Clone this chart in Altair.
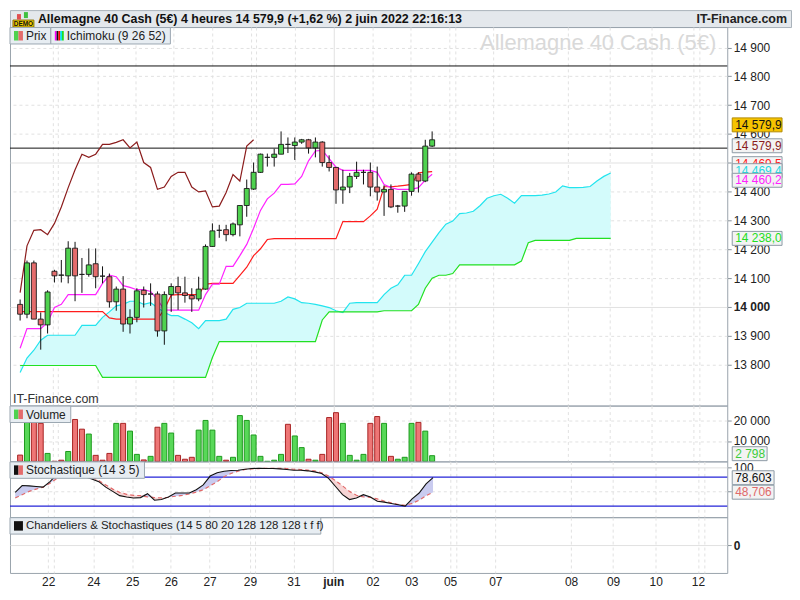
import altair as alt
import pandas as pd

FONT = "Liberation Sans"
GRID = "#e1e1e1"

# ---------------- data ----------------
opens = [14009, 13975, 14153, 13958, 13938, 14124, 14110, 14108, 14204, 14113,
         14113, 14150, 14107, 14105, 14018, 14062, 13941, 13964, 14058, 14045,
         14045, 13917, 14043, 14071, 14049, 14040, 14028, 14062, 14210, 14266,
         14268, 14251, 14285, 14352, 14409, 14467, 14519, 14519, 14530, 14564,
         14560, 14572, 14580, 14552, 14572, 14501, 14484, 14406, 14416, 14453,
         14467, 14467, 14416, 14399, 14408, 14350, 14350, 14401, 14461, 14437,
         14558]
highs = [14026, 14161, 14161, 13981, 14058, 14129, 14163, 14228, 14226, 14170,
         14203, 14203, 14141, 14116, 14071, 14107, 13992, 14065, 14071, 14082,
         14054, 14054, 14082, 14105, 14105, 14065, 14105, 14217, 14290, 14285,
         14285, 14293, 14352, 14442, 14501, 14532, 14532, 14549, 14609, 14588,
         14588, 14583, 14583, 14588, 14575, 14526, 14484, 14476, 14465, 14504,
         14476, 14501, 14487, 14422, 14425, 14354, 14401, 14467, 14467, 14580,
         14609]
lows = [13953, 13961, 13958, 13852, 13908, 14085, 14085, 14082, 14020, 14049,
        14105, 14065, 14082, 13998, 13987, 13914, 13908, 13947, 13998, 14004,
        13897, 13869, 13983, 13990, 14015, 13983, 14020, 14060, 14208, 14240,
        14228, 14245, 14245, 14313, 14406, 14465, 14487, 14487, 14530, 14534,
        14510, 14566, 14532, 14519, 14487, 14470, 14358, 14358, 14395, 14444,
        14425, 14384, 14369, 14316, 14343, 14327, 14330, 14386, 14397, 14433,
        14555]
closes = [13975, 14153, 13958, 13938, 14052, 14108, 14111, 14204, 14108, 14113,
          14146, 14105, 14107, 14018, 14062, 13941, 13964, 14056, 14043, 14045,
          13917, 14043, 14071, 14049, 14040, 14028, 14062, 14210, 14264, 14266,
          14251, 14288, 14352, 14411, 14467, 14530, 14519, 14530, 14564, 14564,
          14572, 14580, 14552, 14572, 14501, 14484, 14406, 14416, 14453, 14467,
          14467, 14416, 14399, 14408, 14347, 14350, 14401, 14461, 14437, 14558,
          14579.9]
volumes = [3090, 24000, 23000, 18650, 3900, 0, 570, 4850, 20560, 15800,
           13400, 2950, 570, 3900, 18650, 18650, 14850, 3430, 710, 2470,
           16750, 18650, 13900, 2950, 1050, 2000, 15330, 20080, 15330, 2470,
           570, 2000, 22470, 20080, 12950, 2470, 0, 570, 3430, 18180,
           12470, 6760, 1050, 570, 3430, 21500, 23900, 18650, 2950, 570,
           3430, 18650, 22000, 18650, 2470, 1050, 2000, 18650, 19130, 14850,
           2798]
vol_up = [0, 1, 0, 0, 1, 0, 0, 1, 0, 0,
          1, 0, 0, 0, 1, 0, 1, 1, 0, 1,
          0, 1, 1, 0, 0, 0, 1, 1, 1, 1,
          0, 1, 1, 1, 1, 1, 1, 1, 1, 0,
          1, 1, 0, 1, 0, 0, 0, 1, 1, 1,
          1, 0, 0, 1, 0, 1, 1, 1, 0, 1,
          1]
tenkan = [13857, 13925, 13925, 13925, 13947, 13998, 14009, 14043, 14043, 14043,
          14043, 14043, 14082, 14110, 14105, 14074, 14068, 14060, 14060, 14054,
          14026, 13990, 13989, 13989, 13989, 13989, 13989, 14043, 14079, 14079,
          14141, 14141, 14178, 14217, 14273, 14335, 14375, 14395, 14425, 14425,
          14427, 14453, 14507, 14541, 14543, 14515, 14485, 14474, 14474, 14474,
          14474, 14474, 14467, 14425, 14414, 14408, 14408, 14408, 14414, 14440,
          14460.2]
kijun = [13984, 13984, 13984, 13984, 13984, 13984, 13984, 13984, 13984, 13984,
         13984, 13984, 13984, 13962, 13958, 13958, 13958, 13958, 13958, 13958,
         13958, 13992, 14041, 14043, 14043, 14043, 14043, 14079, 14082, 14082,
         14082, 14082, 14110, 14138, 14178, 14202, 14234, 14237, 14237, 14237,
         14237, 14237, 14237, 14237, 14237, 14237, 14237, 14296, 14296, 14296,
         14296, 14316, 14339, 14417, 14417, 14419, 14422, 14425, 14465, 14468,
         14469.5]
chikou = [14050, 14212, 14266, 14268, 14251, 14290, 14347, 14414, 14476, 14530,
          14519, 14530, 14564, 14564, 14571, 14580, 14552, 14572, 14501, 14484,
          14408, 14416, 14453, 14467, 14467, 14416, 14399, 14403, 14347, 14350,
          14397, 14459, 14437, 14558, 14579.9]
senkou_a = [13773, 13823, 13850, 13885, 13902, 13902, 13902, 13902, 13902, 13936,
            13936, 13936, 13964, 13983, 14004, 14009, 14020, 14020, 14009, 14015,
            13998, 13981, 13970, 13970, 13958, 13945, 13925, 13953, 13953, 13953,
            13958, 13992, 13998, 14013, 14013, 14013, 14013, 14013, 14020, 14035,
            14028, 14015, 14013, 14009, 14004, 13998, 13987, 13981, 14013, 14015,
            14015, 14015, 14015, 14043, 14065, 14077, 14110, 14110, 14150, 14192,
            14225, 14258, 14287, 14298, 14324, 14326, 14332, 14352, 14377, 14386,
            14391, 14377, 14360, 14386, 14386, 14386, 14388, 14392, 14399, 14420,
            14414, 14414, 14415, 14418, 14437, 14453, 14465]
senkou_b = [13797, 13797, 13797, 13797, 13797, 13797, 13797, 13797, 13797, 13797,
            13797, 13797, 13756, 13756, 13756, 13756, 13756, 13756, 13756, 13756,
            13756, 13756, 13756, 13756, 13756, 13756, 13756, 13756, 13825, 13880,
            13880, 13880, 13880, 13880, 13880, 13880, 13880, 13880, 13880, 13880,
            13880, 13880, 13880, 13880, 13955, 13983, 13983, 13983, 13983, 13983,
            13983, 13983, 13983, 13987, 13987, 13987, 13987, 13987, 14009, 14065,
            14100, 14110, 14110, 14116, 14146, 14146, 14146, 14146, 14146, 14146,
            14146, 14146, 14146, 14159, 14223, 14231, 14231, 14231, 14231, 14231,
            14231, 14238, 14238, 14238, 14238, 14238, 14238]
stoch_k = [48.3, 62.5, 61.8, 60.5, 59.1, 70.5, 86.0, 94.0, 94.0, 90.7,
           80.6, 75.9, 70.5, 59.1, 50.4, 41.6, 38.9, 36.9, 37.6, 45.7,
           32.2, 33.5, 38.9, 47.0, 47.0, 47.0, 53.7, 63.8, 82.0, 88.7,
           92.1, 93.4, 94.1, 96.1, 97.5, 98.1, 97.5, 97.5, 96.8, 95.5,
           94.1, 94.1, 92.8, 90.7, 87.4, 77.3, 60.5, 43.6, 33.5, 36.9,
           43.6, 38.9, 30.2, 28.2, 25.5, 22.8, 20.1, 34.9, 47.0, 65.8,
           78.603]
stoch_d = [36.9, 43.6, 50.4, 55.1, 59.1, 67.2, 77.3, 84.0, 87.4, 87.4,
           86.0, 80.6, 72.6, 63.8, 55.1, 48.4, 44.3, 42.3, 41.6, 38.9,
           37.6, 36.9, 38.3, 40.3, 42.3, 45.0, 49.0, 53.7, 61.8, 70.5,
           80.6, 87.4, 92.1, 95.5, 96.8, 97.5, 98.1, 98.1, 98.1, 97.5,
           96.1, 95.5, 94.1, 92.8, 88.7, 82.0, 72.6, 61.8, 50.4, 42.3,
           38.9, 38.2, 34.9, 30.2, 26.8, 23.4, 21.4, 25.5, 32.2, 41.6,
           48.706]
h_levels = [14836, 14551]
stoch_levels = [80, 20]
day_pos = [4.73, 11.22, 16.79, 22.35, 27.91, 33.70, 39.96, 45.67, 51.32, 56.88,
           62.45, 68.94, 79.83, 85.86, 91.97, 98.05]
day_lab = ["22", "24", "25", "26", "27", "29", "31", "juin", "02", "03",
           "05", "07", "08", "09", "10", "12"]
extra_pos = [5.52, 34.40, 63.38, 98.93]

TITLE = "Allemagne 40 Cash (5€) 4 heures 14 579,9 (+1,62 %) 2 juin 2022 22:16:13"

# ---------------- tables ----------------
UP, DN = "#4fd24f", "#e46c6c"
n = len(closes)
df = pd.DataFrame({
    "i": list(range(n)), "o": opens, "h": highs, "l": lows, "c": closes,
    "vol": volumes, "tenkan": tenkan, "kijun": kijun, "k": stoch_k, "d": stoch_d,
})
df["body"] = [UP if c > o else (DN if c < o else "#222222") for o, c in zip(opens, closes)]
df["vfill"] = ["#58d858" if u else "#ee7676" for u in vol_up]
df["vstroke"] = ["#1d9a1d" if u else "#a82424" for u in vol_up]
cloud_df = pd.DataFrame({"i": list(range(len(senkou_a))), "a": senkou_a, "b": senkou_b})
chik_df = pd.DataFrame({"i": list(range(len(chikou))), "v": chikou})
hl_df = pd.DataFrame({"lvl": h_levels})
sl_df = pd.DataFrame({"lvl": stoch_levels})
tick_pos = day_pos + extra_pos
tick_df = pd.DataFrame({"p": tick_pos, "z": [0] * len(tick_pos)})

# ---------------- layout ----------------
W = 720
H_HEAD, H_MAIN, H_VOL, H_STO, H_CH = 17, 380, 56, 56, 56
xsc = alt.Scale(domain=[-0.75, 102.25], nice=False, zero=False)

lab_expr = "''"
for p, lab in zip(day_pos, day_lab):
    lab_expr = f"abs(datum.value - {p}) < 0.01 ? '{lab}' : ({lab_expr})"
juin_test = "abs(datum.value - 45.67) < 0.01"
xgrid_dash = {"condition": {"test": juin_test, "value": []}, "value": [3, 3]}

x_axis_top = alt.Axis(values=tick_pos, labels=False, ticks=False, domain=False, grid=True,
                      gridColor=GRID, gridDash=xgrid_dash, title=None)
x_axis_bottom = alt.Axis(values=tick_pos, labelExpr=lab_expr,
                         labelFontWeight={"condition": {"test": juin_test, "value": "bold"}, "value": "normal"},
                         labelFont=FONT, labelFontSize=12, labelColor="#222", labelPadding=4,
                         labelOverlap=False, labelFlush=False, ticks=False, domain=False, grid=True,
                         gridColor=GRID, gridDash=xgrid_dash, title=None)


def XM(field):
    return alt.X(field, type="quantitative", scale=xsc, axis=x_axis_top, title=None)


ax_common = dict(orient="right", domain=False, ticks=True, tickSize=4, tickColor="#8a949c",
                 labelFont=FONT, labelFontSize=12, labelColor="#222", labelPadding=2,
                 labelOverlap=False, gridColor=GRID, title=None, grid=True)
fmt = "replace(format(datum.value, ',d'), ',', ' ')"

main_axis = alt.Axis(values=list(range(13800, 15000, 100)), labelExpr=fmt,
                     labelFontWeight={"condition": {"test": "datum.value == 14000", "value": "bold"}, "value": "normal"},
                     gridDash={"condition": {"test": "datum.value == 14000 || datum.value == 14500", "value": []}, "value": [3, 3]},
                     **ax_common)
main_sc = alt.Scale(domain=[13658, 14971], nice=False, zero=False)
vol_axis = alt.Axis(values=[10000, 20000], labelExpr=fmt, gridDash=[3, 3], **ax_common)
vol_sc = alt.Scale(domain=[0, 27370], nice=False)
sto_axis = alt.Axis(values=[50, 100], labelExpr="datum.value == 100 ? '100' : ''",
                    gridDash={"condition": {"test": "datum.value == 100", "value": []}, "value": [3, 3]},
                    **ax_common)
sto_sc = alt.Scale(domain=[-2.8, 112.3], nice=False, zero=False)
ch_axis = alt.Axis(values=[0], labelFontWeight="bold", **ax_common)
ch_sc = alt.Scale(domain=[-1, 1], nice=False)


def YM(f):
    return alt.Y(f, type="quantitative", scale=main_sc, axis=main_axis, title=None)


def YV(f):
    return alt.Y(f, type="quantitative", scale=vol_sc, axis=vol_axis, title=None)


def YS(f):
    return alt.Y(f, type="quantitative", scale=sto_sc, axis=sto_axis, title=None)


def YC(f):
    return alt.Y(f, type="quantitative", scale=ch_sc, axis=ch_axis, title=None)


def const():
    return alt.Chart(alt.Data(values=[{}]))


def rect(x1, x2, y1, y2, fill, stroke=None, sw=1):
    kw = dict(fill=fill)
    if stroke:
        kw.update(stroke=stroke, strokeWidth=sw)
    return const().mark_rect(**kw).encode(x=alt.value(x1), x2=alt.value(x2),
                                          y=alt.value(y1), y2=alt.value(y2))


def label(text, x, y, size=12, color="#222", weight="normal", align="left"):
    return const().mark_text(text=text, align=align, baseline="middle", fontSize=size, font=FONT,
                             color=color, fontWeight=weight).encode(x=alt.value(x), y=alt.value(y))


def legend(x0, w, text, icon, size=12):
    layers = [rect(x0, x0 + w, 0.5, 17, "#e7edf2", "#9ba7b1")]
    iw = 9 / len(icon)
    for k, col in enumerate(icon):
        layers.append(rect(x0 + 4 + k * iw, x0 + 4 + (k + 1) * iw, 4, 13.5, col))
    layers.append(label(text, x0 + 16, 9, size=size))
    return layers


def tag(yfn, value, text, color, bg="#f3f3f3", border="#8d9ba6", off=0, x1=725, x2=775):
    d = alt.Data(values=[{"v": value, "t": text}])
    r = alt.Chart(d).mark_rect(fill=bg, stroke=border, strokeWidth=1, yOffset=off - 7,
                               y2Offset=off + 7).encode(x=alt.value(x1), x2=alt.value(x2),
                                                        y=yfn("v"), y2=alt.Y2("v"))
    t = alt.Chart(d).mark_text(align="left", baseline="middle", dy=off, fontSize=12, font=FONT,
                               color=color).encode(x=alt.value(x1 + 3), y=yfn("v"), text="t:N")
    return [r, t]


# ---------------- header ----------------
header = alt.layer(
    rect(3, 24, 10, 17, "#f2cf00", "#8a7000"),
    label("DEMO", 13.5, 13.7, size=6.5, color="#111", weight="bold", align="center"),
    rect(7, 11, 4, 9.5, "#e05050"),
    rect(14, 18, 2, 8, "#40c040"),
    label(TITLE, 28, 9, size=12.5, weight="bold", color="#111"),
    label("IT-Finance.com", 780, 9, size=12.5, weight="bold", color="#222", align="right"),
).properties(width=784, height=H_HEAD, view=alt.ViewBackground(fill="#e4e8ec", stroke="#aab3bb"))

# ---------------- main price panel ----------------
watermark = label("Allemagne 40 Cash (5€)", 709, 16, size=22, color="#d9d9d9", align="right")
cloud = alt.Chart(cloud_df).mark_area(color="#d3fbfb").encode(x=XM("i"), y=YM("a"), y2=alt.Y2("b"))
line_a = alt.Chart(cloud_df).mark_line(color="#22e4ee", strokeWidth=1.2).encode(x=XM("i"), y=YM("a"))
line_b = alt.Chart(cloud_df).mark_line(color="#22e022", strokeWidth=1.2).encode(x=XM("i"), y=YM("b"))
hlines = alt.Chart(hl_df).mark_rule(color="#111", strokeWidth=1).encode(y=YM("lvl"))
chik = alt.Chart(chik_df).mark_line(color="#8b1c1c", strokeWidth=1.2).encode(x=XM("i"), y=YM("v"))
kij = alt.Chart(df).mark_line(color="#ff1c1c", strokeWidth=1.2).encode(x=XM("i"), y=YM("kijun"))
ten = alt.Chart(df).mark_line(color="#ff22ff", strokeWidth=1.2).encode(x=XM("i"), y=YM("tenkan"))
wick = alt.Chart(df).mark_rule(color="#111", strokeWidth=1).encode(x=XM("i"), y=YM("l"), y2=alt.Y2("h"))
body = alt.Chart(df).mark_bar(size=5, stroke="#1b1b1b", strokeWidth=0.9).encode(
    x=XM("i"), y=YM("o"), y2=alt.Y2("c"), fill=alt.Fill("body:N", scale=None))
itf = label("IT-Finance.com", 3, 373, size=12.5, color="#333")

main_layers = [watermark, cloud, line_a, line_b, hlines, chik, kij, ten, wick, body, itf]
main_layers += legend(0, 41, "Prix", [UP, DN])
main_layers += legend(41, 120, "Ichimoku (9 26 52)", ["#ff00ff", "#111111", "#ff0000", "#00e5ee", "#22dd22"])
main_layers += tag(YM, 14579.9, "14 579,9", "#111", bg="#f6c300", border="#b38b00", off=-15)
main_layers += tag(YM, 14579.9, "14 579,9", "#8b1c1c", off=6)
main_layers += tag(YM, 14469.5, "14 469,5", "#ff2020", off=-8)
main_layers += tag(YM, 14469.4, "14 469,4", "#1ed8e0", off=-1)
main_layers += tag(YM, 14460.2, "14 460,2", "#ff22ff", off=6)
main_layers += tag(YM, 14238.0, "14 238,0", "#22dd22", off=0)
main = alt.layer(*main_layers).properties(width=W, height=H_MAIN)

# ---------------- volume panel ----------------
vbars = alt.Chart(df).mark_bar(size=5, strokeWidth=1).encode(
    x=XM("i"), y=YV("vol"), fill=alt.Fill("vfill:N", scale=None), stroke=alt.Stroke("vstroke:N", scale=None))
vol_layers = [vbars] + legend(0, 61, "Volume", [UP, DN])
vol_layers += tag(YV, 2798, "2 798", "#3ccc3c", off=-2, x2=760)
vol = alt.layer(*vol_layers).properties(width=W, height=H_VOL)

# ---------------- stochastic panel ----------------
sb = alt.Chart(df).transform_calculate(mx="max(datum.k, datum.d)")
blue = sb.mark_area(color="#c9cbef").encode(x=XM("i"), y=YS("mx"), y2=alt.Y2("d"))
pink = sb.mark_area(color="#f6d4d4").encode(x=XM("i"), y=YS("mx"), y2=alt.Y2("k"))
lv = alt.Chart(sl_df).mark_rule(color="#2424d8", strokeWidth=1.2).encode(y=YS("lvl"))
dline = alt.Chart(df).mark_line(color="#e26a6a", strokeDash=[4, 3], strokeWidth=1.2).encode(x=XM("i"), y=YS("d"))
kline = alt.Chart(df).mark_line(color="#111", strokeWidth=1.1).encode(x=XM("i"), y=YS("k"))
sto_layers = [blue, pink, lv, dline, kline] + legend(0, 135, "Stochastique (14 3 5)", ["#111111", DN])
sto_layers += tag(YS, 78.603, "78,603", "#111", x2=767)
sto_layers += tag(YS, 48.706, "48,706", "#e06a6a", x2=767)
sto = alt.layer(*sto_layers).properties(width=W, height=H_STO)

# ---------------- chandeliers panel ----------------
ch_pts = alt.Chart(tick_df).mark_point(opacity=0).encode(
    x=alt.X("p", type="quantitative", scale=xsc, axis=x_axis_bottom, title=None), y=YC("z"))
ch_layers = [ch_pts] + legend(0, 312, "Chandeliers & Stochastiques (14 5 80 20 128 128 128 t f f)",
                              ["#111111"], size=11.5)
chand = alt.layer(*ch_layers).properties(width=W, height=H_CH)

chart = alt.vconcat(header, main, vol, sto, chand, spacing=0, bounds="flush").properties(
    padding=0).configure_view(stroke="#9aa4ad")

chart.save("out.html", embed_options={"renderer": "svg", "actions": False})
